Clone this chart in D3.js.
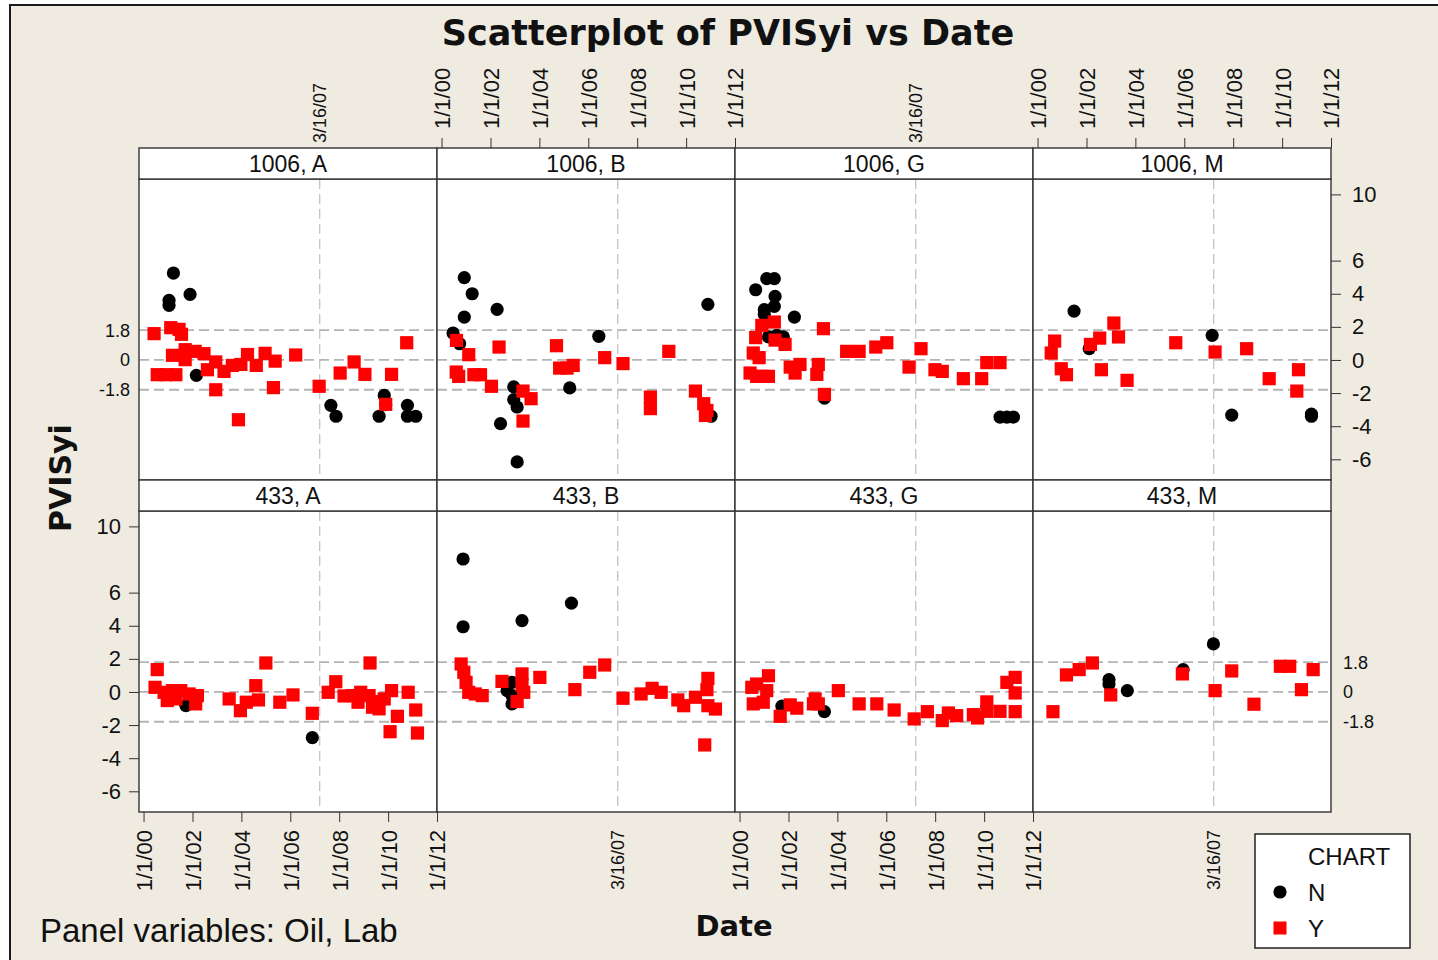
<!DOCTYPE html>
<html>
<head>
<meta charset="utf-8">
<script src="https://cdn.jsdelivr.net/npm/d3@7"></script>
<style>
  body { margin: 0; background: #fff; }
  svg text { font-family: "Liberation Sans", Arial, sans-serif; fill: #111; }
  svg text.bold { font-family: "DejaVu Sans", sans-serif; font-weight: bold; }
</style>
</head>
<body>
<svg id="chart" width="1438" height="960"></svg>
<script>
const oils = ["1006", "433"];
const labs = ["A", "B", "G", "M"];
const xTickYears = [2000, 2002, 2004, 2006, 2008, 2010, 2012];
const yTicks = [10, 6, 4, 2, 0, -2, -4, -6];
const refValues = [1.8, 0, -1.8];
const refLabels = ["1.8", "0", "-1.8"];
const refDate = new Date(2007, 2, 16);
const chartGroups = ["N", "Y"];

// points as [decimal year, PVISyi]
const n_1006_A = [[2001.22,5.25],[2001.90,3.96],[2001.04,3.6],[2001.04,3.3],[2002.16,-0.93],[2007.66,-2.74],[2007.87,-3.4],[2009.84,-2.14],[2009.63,-3.4],[2009.9,-2.7],[2010.79,-2.74],[2010.79,-3.4],[2011.13,-3.4]];
const y_1006_A = [[2000.43,1.59],[2001.11,1.95],[2001.45,1.85],[2001.55,1.55],[2000.56,-0.89],[2000.91,-0.89],[2001.32,-0.89],[2001.18,0.28],[2001.70,0.62],[2001.70,0.02],[2002.11,0.52],[2002.47,0.38],[2002.61,-0.59],[2002.95,-0.12],[2002.95,-1.8],[2003.29,-0.69],[2003.63,-0.33],[2003.98,-0.27],[2003.88,-3.61],[2004.25,0.33],[2004.61,-0.33],[2004.97,0.4],[2005.38,-0.07],[2005.31,-1.67],[2006.22,0.3],[2007.18,-1.59],[2008.04,-0.79],[2008.61,-0.12],[2009.05,-0.87],[2010.14,-0.87],[2009.9,-2.68],[2010.76,1.04]];

const n_1006_B = [[2000.93,4.97],[2001.25,4.0],[2000.93,2.59],[2002.27,3.06],[2000.47,1.63],[2000.74,0.98],[2002.95,-1.63],[2002.95,-2.4],[2003.09,-2.84],[2002.41,-3.85],[2003.09,-6.16],[2005.24,-1.69],[2006.43,1.43],[2010.89,3.36],[2011.02,-3.4]];
const y_1006_B = [[2000.61,1.18],[2001.11,0.32],[2000.6,-0.73],[2000.7,-0.99],[2001.32,-0.89],[2001.59,-0.89],[2002.04,-1.59],[2002.35,0.78],[2003.33,-1.88],[2003.66,-2.34],[2003.33,-3.69],[2004.7,0.86],[2004.83,-0.49],[2005.13,-0.49],[2005.38,-0.33],[2006.67,0.14],[2007.42,-0.22],[2008.54,-2.24],[2008.54,-2.94],[2009.29,0.52],[2010.38,-1.88],[2010.72,-2.64],[2010.79,-3.35],[2010.85,-3.05]];

const n_1006_G = [[2001.11,4.91],[2001.42,4.91],[2000.66,4.24],[2001.45,3.84],[2001.42,3.24],[2001.01,3.04],[2001.01,2.75],[2002.24,2.59],[2001.52,1.49],[2001.18,1.39],[2001.79,1.39],[2003.47,-2.3],[2010.65,-3.45],[2010.93,-3.45],[2011.2,-3.45]];
const y_1006_G = [[2000.91,2.09],[2001.42,2.29],[2000.66,1.35],[2001.45,1.2],[2001.86,0.94],[2000.56,0.42],[2000.8,0.14],[2000.43,-0.79],[2000.7,-0.99],[2000.94,-0.99],[2001.18,-0.99],[2002.07,-0.43],[2002.47,-0.27],[2002.27,-0.79],[2003.22,-0.27],[2003.16,-0.87],[2003.47,-2.08],[2003.43,1.89],[2004.38,0.52],[2004.89,0.52],[2005.57,0.78],[2006.02,1.04],[2006.93,-0.43],[2007.42,0.68],[2007.99,-0.59],[2008.29,-0.69],[2009.15,-1.13],[2009.9,-1.13],[2010.11,-0.16],[2010.65,-0.16]];

const n_1006_M = [[2001.49,2.95],[2002.11,0.68],[2007.14,1.49],[2007.94,-3.33],[2011.2,-3.27],[2011.2,-3.4]];
const y_1006_M = [[2000.7,1.14],[2000.56,0.42],[2000.97,-0.53],[2001.18,-0.89],[2002.16,0.94],[2002.54,1.32],[2003.12,2.23],[2003.31,1.39],[2002.61,-0.59],[2003.66,-1.23],[2005.65,1.04],[2007.26,0.48],[2008.55,0.68],[2009.47,-1.13],[2010.67,-0.59],[2010.6,-1.88]];

const n_433_A = [[2001.73,-0.83],[2006.9,-2.76]];
const y_433_A = [[2000.56,1.35],[2000.47,0.28],[2000.84,-0.02],[2001.18,0.08],[2001.52,0.08],[2001.86,-0.12],[2002.2,-0.22],[2000.97,-0.52],[2001.32,-0.42],[2002.13,-0.72],[2003.5,-0.42],[2003.96,-1.13],[2004.2,-0.62],[2004.59,0.38],[2004.7,-0.48],[2005.0,1.75],[2005.57,-0.62],[2006.11,-0.18],[2006.9,-1.29],[2007.55,-0.02],[2007.86,0.62],[2008.2,-0.24],[2008.54,-0.22],[2008.88,-0.02],[2009.22,-0.22],[2009.5,-0.58],[2009.63,-1.02],[2009.84,-0.42],[2009.36,-0.92],[2008.77,-0.62],[2009.26,1.75],[2010.14,0.08],[2010.38,-1.47],[2010.08,-2.4],[2010.82,-0.02],[2011.13,-1.09],[2011.2,-2.48]];

const n_433_B = [[2000.88,8.03],[2000.88,3.94],[2003.29,4.31],[2005.31,5.37],[2002.88,0.58],[2002.88,-0.22],[2002.88,-0.72],[2002.68,0.08]];
const y_433_B = [[2000.8,1.69],[2000.91,1.19],[2001.0,0.58],[2001.11,-0.02],[2001.38,-0.12],[2001.66,-0.22],[2002.47,0.64],[2003.29,1.09],[2003.29,0.42],[2003.36,-0.02],[2003.09,-0.58],[2004.02,0.88],[2005.45,0.14],[2006.06,1.19],[2006.67,1.63],[2007.42,-0.38],[2008.16,-0.12],[2008.61,0.22],[2008.98,-0.02],[2009.66,-0.48],[2009.9,-0.83],[2010.38,-0.32],[2010.89,0.82],[2010.85,0.14],[2010.89,-0.83],[2011.2,-1.03],[2010.76,-3.2]];

const n_433_G = [[2001.73,-0.86],[2003.47,-1.19]];
const y_433_G = [[2001.18,0.98],[2000.5,0.28],[2000.7,0.48],[2001.11,0.08],[2000.56,-0.72],[2000.97,-0.62],[2001.66,-1.47],[2002.07,-0.78],[2002.34,-0.98],[2003.09,-0.42],[2003.02,-0.72],[2003.22,-0.72],[2004.04,0.08],[2004.89,-0.72],[2005.61,-0.72],[2006.32,-1.09],[2007.14,-1.63],[2007.68,-1.19],[2008.29,-1.73],[2008.54,-1.27],[2008.88,-1.43],[2009.56,-1.37],[2009.73,-1.57],[2010.11,-0.6],[2010.11,-1.17],[2010.65,-1.17],[2010.93,0.58],[2011.27,0.88],[2011.27,-0.06],[2011.27,-1.19]];

const n_433_M = [[2002.92,0.74],[2002.92,0.48],[2003.67,0.08],[2005.95,1.35],[2007.19,2.9]];
const y_433_M = [[2000.63,-1.19],[2001.18,1.03],[2001.7,1.35],[2002.24,1.75],[2002.99,-0.18],[2005.92,1.09],[2007.26,0.08],[2007.94,1.27],[2008.85,-0.74],[2009.93,1.55],[2010.31,1.55],[2010.79,0.14],[2011.27,1.35]];

const series = {
  "1006|A": [n_1006_A, y_1006_A], "1006|B": [n_1006_B, y_1006_B],
  "1006|G": [n_1006_G, y_1006_G], "1006|M": [n_1006_M, y_1006_M],
  "433|A": [n_433_A, y_433_A], "433|B": [n_433_B, y_433_B],
  "433|G": [n_433_G, y_433_G], "433|M": [n_433_M, y_433_M]
};

// layout
const left = 139, panelW = 298, panelH = 301, stripH = 31;
const rowTop = [179, 511];
const bg = "#efebe1";

const toDate = t => {
  const yr = Math.floor(t);
  return new Date(new Date(yr, 0, 1).getTime() + (t - yr) * 365.25 * 86400000);
};

const x = d3.scaleTime().domain([new Date(1999, 9, 25), new Date(2012, 0, 1)]).range([0, panelW]);
const y = d3.scaleLinear().domain([-7.25, 10.93]).range([panelH, 0]);
const fmt = d3.timeFormat("%-m/%-d/%y");
const tickDates = xTickYears.map(yr => new Date(yr, 0, 1));

const svg = d3.select("#chart");

svg.append("rect")
  .attr("x", 10).attr("y", 5).attr("width", 1440).attr("height", 970)
  .attr("fill", bg).attr("stroke", "#1a1a1a").attr("stroke-width", 2);

svg.append("text").attr("class", "bold")
  .attr("x", 728).attr("y", 45).attr("text-anchor", "middle")
  .attr("font-size", 35).text("Scatterplot of PVISyi vs Date");

oils.forEach((oil, r) => {
  labs.forEach((lab, c) => {
    const g = svg.append("g").attr("transform", `translate(${left + c * panelW},${rowTop[r]})`);

    g.append("rect").attr("width", panelW).attr("height", panelH).attr("fill", "#fff");

    // reference lines
    g.selectAll(".href").data(refValues).enter().append("line")
      .attr("x1", 0).attr("x2", panelW)
      .attr("y1", d => y(d)).attr("y2", d => y(d))
      .attr("stroke", "#b4b4b4").attr("stroke-width", 1.8)
      .attr("stroke-dasharray", "10,5");
    g.append("line")
      .attr("x1", x(refDate)).attr("x2", x(refDate))
      .attr("y1", 0).attr("y2", panelH)
      .attr("stroke", "#c4c4c4").attr("stroke-width", 1.3)
      .attr("stroke-dasharray", "10,5");

    const [nPts, yPts] = series[`${oil}|${lab}`];

    g.selectAll(".ptN").data(nPts).enter().append("circle")
      .attr("cx", d => x(toDate(d[0]))).attr("cy", d => y(d[1]))
      .attr("r", 6.6).attr("fill", "#000");

    g.selectAll(".ptY").data(yPts).enter().append("rect")
      .attr("x", d => x(toDate(d[0])) - 6.6).attr("y", d => y(d[1]) - 6.6)
      .attr("width", 13.2).attr("height", 13.2).attr("fill", "#ff0000");

    g.append("rect").attr("width", panelW).attr("height", panelH)
      .attr("fill", "none").attr("stroke", "#333").attr("stroke-width", 1.4);

    // strip
    g.append("rect").attr("y", -stripH).attr("width", panelW).attr("height", stripH)
      .attr("fill", "#fff").attr("stroke", "#333").attr("stroke-width", 1.4);
    g.append("text")
      .attr("x", panelW / 2).attr("y", -stripH / 2).attr("dy", "0.36em")
      .attr("text-anchor", "middle").attr("font-size", 23)
      .text(`${oil}, ${lab}`);

    // date axes: top for B, M on the upper row, bottom for A, G on the lower row
    const topSide = (c === 1 || c === 3);
    if (r === 0 && topSide) {
      const ax = g.append("g").attr("transform", `translate(0,${-stripH})`)
        .call(d3.axisTop(x).tickValues(tickDates).tickFormat(fmt).tickSize(10))
        .attr("color", "#333").attr("font-size", 22);
      ax.select(".domain").remove();
      ax.selectAll("text").attr("transform", "rotate(-90)")
        .attr("x", 19).attr("y", 0).attr("dy", "0.36em").style("text-anchor", "start");
    }
    if (r === 1 && !topSide) {
      const ax = g.append("g").attr("transform", `translate(0,${panelH})`)
        .call(d3.axisBottom(x).tickValues(tickDates).tickFormat(fmt).tickSize(10))
        .attr("color", "#333").attr("font-size", 22);
      ax.select(".domain").remove();
      ax.selectAll("text").attr("transform", "rotate(-90)")
        .attr("x", -18).attr("y", 0).attr("dy", "0.36em").style("text-anchor", "end");
    }

    // reference date label
    if (r === 0 && !topSide) {
      g.append("text").attr("transform", `translate(${x(refDate)},${-stripH - 5}) rotate(-90)`)
        .attr("dy", "0.36em").attr("font-size", 18).text(fmt(refDate));
    }
    if (r === 1 && topSide) {
      g.append("text").attr("transform", `translate(${x(refDate)},${panelH + 18}) rotate(-90)`)
        .attr("dy", "0.36em").attr("font-size", 18).attr("text-anchor", "end").text(fmt(refDate));
    }

    // y axes
    if (r === 1 && c === 0) {
      const ay = g.append("g")
        .call(d3.axisLeft(y).tickValues(yTicks).tickFormat(d => String(d)).tickSize(10).tickPadding(8))
        .attr("color", "#333").attr("font-size", 22);
      ay.select(".domain").remove();
    }
    if (r === 0 && c === 3) {
      const ay = g.append("g").attr("transform", `translate(${panelW},0)`)
        .call(d3.axisRight(y).tickValues(yTicks).tickFormat(d => String(d)).tickSize(10).tickPadding(11))
        .attr("color", "#333").attr("font-size", 22);
      ay.select(".domain").remove();
    }
    if (r === 0 && c === 0) {
      g.selectAll(".rl").data(refValues).enter().append("text")
        .attr("x", -9).attr("y", d => y(d)).attr("dy", "0.36em")
        .attr("text-anchor", "end").attr("font-size", 18)
        .text((d, i) => refLabels[i]);
    }
    if (r === 1 && c === 3) {
      g.selectAll(".rl").data(refValues).enter().append("text")
        .attr("x", panelW + 12).attr("y", d => y(d)).attr("dy", "0.36em")
        .attr("text-anchor", "start").attr("font-size", 18)
        .text((d, i) => refLabels[i]);
    }
  });
});

// axis titles
svg.append("text").attr("class", "bold")
  .attr("transform", "translate(71,478) rotate(-90)")
  .attr("text-anchor", "middle").attr("font-size", 30).text("PVISyi");
svg.append("text").attr("class", "bold")
  .attr("x", 734).attr("y", 936).attr("text-anchor", "middle")
  .attr("font-size", 29).text("Date");
svg.append("text")
  .attr("x", 40).attr("y", 942).attr("font-size", 33)
  .text("Panel variables: Oil, Lab");

// legend
const lg = svg.append("g").attr("transform", "translate(1255,834)");
lg.append("rect").attr("width", 155).attr("height", 114)
  .attr("fill", "#fff").attr("stroke", "#222").attr("stroke-width", 1.5);
lg.append("text").attr("x", 53).attr("y", 31).attr("font-size", 24).text("CHART");
chartGroups.forEach((grp, i) => {
  const cy = 58 + i * 36;
  if (grp === "N") {
    lg.append("circle").attr("cx", 25).attr("cy", cy).attr("r", 6.6).attr("fill", "#000");
  } else {
    lg.append("rect").attr("x", 18.5).attr("y", cy - 6.5).attr("width", 13).attr("height", 13).attr("fill", "#ff0000");
  }
  lg.append("text").attr("x", 53).attr("y", cy).attr("dy", "0.36em").attr("font-size", 24).text(grp);
});
</script>
</body>
</html>
